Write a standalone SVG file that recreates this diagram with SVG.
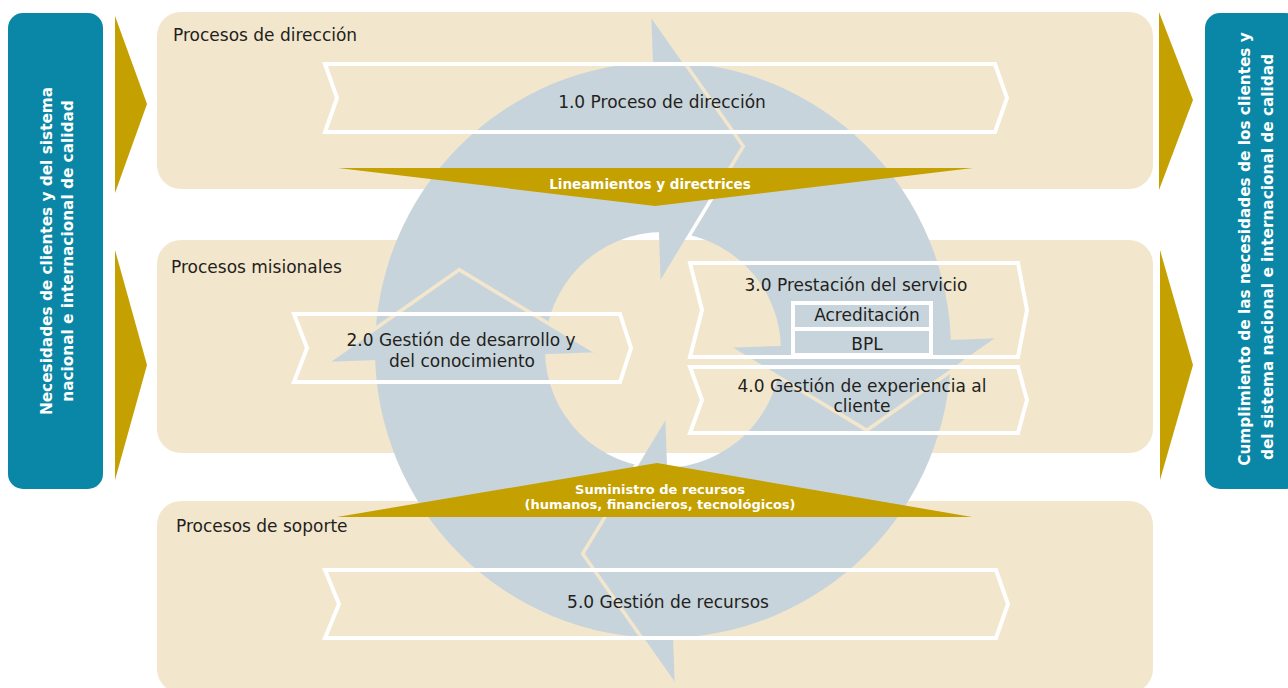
<svg xmlns="http://www.w3.org/2000/svg" width="1288" height="688" viewBox="0 0 1288 688">
<style>
.panel{fill:#F2E6CD}
.teal{fill:#0A87A6}
.gold{fill:#C4A000}
.ring{fill:#C8D4DB}
.chev{fill:none;stroke:#fff;stroke-width:4;stroke-linejoin:miter}
.t{font-family:"DejaVu Sans","Liberation Sans",sans-serif;font-size:17px;fill:#231F20}
.tm{text-anchor:middle}
.w{font-family:"DejaVu Sans","Liberation Sans",sans-serif;font-weight:bold;fill:#fff;text-anchor:middle}
</style>
<defs>
<mask id="ringCut" maskUnits="userSpaceOnUse" x="0" y="0" width="1288" height="688">
<rect x="0" y="0" width="1288" height="688" fill="#fff"/>
<g fill="none" stroke="#000" stroke-width="3.5" stroke-linejoin="miter">
<polyline points="651.3,15.2 743.3,146.2 660.7,283"/>
<polyline points="997.8,338.3 866.8,430.3 730,347.7"/>
<polyline points="674.7,684.8 582.7,553.8 665.3,417"/>
<polyline points="328.2,361.7 459.2,269.7 596,352.3"/>
</g>
</mask>
</defs>
<rect width="1288" height="688" fill="#fff"/>

<g id="panel-direccion"><rect class="panel" x="157" y="12" width="996" height="177" rx="24"/>
<text class="t" x="173" y="41">Procesos de dirección</text></g>
<g id="panel-misionales"><rect class="panel" x="157" y="240" width="996" height="213" rx="24"/>
<text class="t" x="171" y="273">Procesos misionales</text></g>
<g id="panel-soporte"><rect class="panel" x="157" y="501" width="996" height="192" rx="24"/>
<text class="t" x="176" y="532">Procesos de soporte</text></g>

<g id="entrada"><rect class="teal" x="8" y="13" width="95" height="476" rx="15"/>
<text class="w" font-size="15.3" transform="translate(52,251) rotate(-90)">Necesidades de clientes y del sistema</text>
<text class="w" font-size="15.3" transform="translate(73,251) rotate(-90)">nacional e internacional de calidad</text></g>
<g id="salida"><rect class="teal" x="1205" y="13" width="95" height="476" rx="15"/>
<text class="w" font-size="15.3" transform="translate(1250,249) rotate(-90)">Cumplimiento de las necesidades de los clientes y</text>
<text class="w" font-size="15.3" transform="translate(1273,257) rotate(-90)">del sistema nacional e internacional de calidad</text></g>

<g id="connectors">
<polygon class="gold" points="115,16 147,104 115,193"/>
<polygon class="gold" points="115,250 147,365 115,480"/>
<polygon class="gold" points="1159,12 1193,100 1159,190"/>
<polygon class="gold" points="1160,250 1193,365 1160,480"/>
<g id="ciclo" mask="url(#ringCut)" class="ring">
<path fill-rule="evenodd" d="M375,350 A288,288 0 1 1 951,350 A288,288 0 1 1 375,350 Z M545,350 A118,118 0 1 0 781,350 A118,118 0 1 0 545,350 Z"/>
<polygon points="651.3,15.2 743.3,146.2 660.7,283"/>
<polygon points="997.8,338.3 866.8,430.3 730,347.7"/>
<polygon points="674.7,684.8 582.7,553.8 665.3,417"/>
<polygon points="328.2,361.7 459.2,269.7 596,352.3"/>
</g>
</g>

<g id="p1"><polygon class="chev" points="325,64 995,64 1007,98 995,132 325,132 337,98"/>
<text class="t tm" x="662" y="108">1.0 Proceso de dirección</text></g>
<g id="p2"><polygon class="chev" points="294,314 620,314 631,348 620,382 294,382 307,348"/>
<text class="t tm" x="461" y="346">2.0 Gestión de desarrollo y</text>
<text class="t tm" x="462" y="367">del conocimiento</text></g>
<g id="p3"><polygon class="chev" points="690,263 1018,263 1027,310 1018,357 690,357 702,310"/>
<text class="t tm" x="856" y="291">3.0 Prestación del servicio</text>
<rect x="793" y="303" width="138" height="52" fill="#C8D4DB" stroke="#fff" stroke-width="4"/>
<line x1="793" y1="329" x2="931" y2="329" stroke="#fff" stroke-width="4"/>
<text class="t tm" x="867" y="321">Acreditación</text>
<text class="t tm" x="867" y="350">BPL</text></g>
<g id="p4"><polygon class="chev" points="690,367 1018,367 1027,400 1018,433 690,433 702,400"/>
<text class="t tm" x="862" y="392">4.0 Gestión de experiencia al</text>
<text class="t tm" x="862" y="412">cliente</text></g>
<g id="p5"><polygon class="chev" points="325,570 996,570 1008,604 996,638 325,638 339,604"/>
<text class="t tm" x="668" y="608">5.0 Gestión de recursos</text></g>

<g id="lineamientos"><polygon class="gold" points="338,168 973,168 655,206"/>
<text class="w" font-size="13.5" x="650" y="189">Lineamientos y directrices</text></g>
<g id="suministro"><polygon class="gold" points="337,517 657,463 972,517"/>
<text class="w" font-size="13" x="660" y="494">Suministro de recursos</text>
<text class="w" font-size="13" x="660" y="509">(humanos, financieros, tecnológicos)</text></g>
</svg>
